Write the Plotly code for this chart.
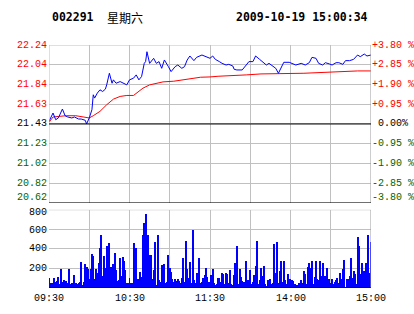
import plotly.graph_objects as go

# ---------------- data ----------------
prev_close = 21.43
stock_code = "002291"
weekday = "星期六"
stamp = "2009-10-19 15:00:34"

time_ticks = ["09:30", "10:30", "11:30", "14:00", "15:00"]
time_tick_min = [0, 60, 120, 180, 240]
price_ticks = ["22.24", "22.04", "21.84", "21.63", "21.43", "21.23", "21.02", "20.82", "20.62"]
pct_ticks = ["+3.80 %", "+2.85 %", "+1.90 %", "+0.95 %", "0.00%", "-0.95 %", "-1.90 %", "-2.85 %", "-3.80 %"]
vol_ticks = ["200", "400", "600", "800"]
vol_tick_vals = [200, 400, 600, 800]

# minute index (0 = 09:30, 120 = 11:30/13:00, 240 = 15:00)
price_min = [0, 3, 5, 7, 10, 12, 14, 17, 19, 22, 24, 27, 28, 30, 32, 33, 34, 36, 38, 40, 42, 43, 45, 47, 48,
             50, 53, 56, 58, 60, 63, 65, 67, 69, 71, 72, 73, 75, 78, 80, 82, 84, 86, 89, 91, 94, 96, 99,
             101, 103, 105, 108, 110, 114, 117, 120, 122, 124, 127, 129, 132, 134, 137, 138, 140, 144,
             147, 149, 152, 154, 157, 159, 162, 164, 167, 169, 171, 173, 175, 179, 181, 184, 188, 191,
             194, 196, 199, 201, 204, 206, 209, 211, 214, 216, 219, 221, 224, 227, 230, 232, 235, 237, 240]
price = [21.457, 21.543, 21.474, 21.492, 21.584, 21.515, 21.502, 21.492, 21.502, 21.481, 21.481, 21.468,
         21.430, 21.492, 21.577, 21.731, 21.697, 21.748, 21.782, 21.765, 21.789, 21.833, 21.953, 21.850,
         21.885, 21.850, 21.867, 21.850, 21.833, 21.885, 21.902, 21.936, 21.885, 21.919, 22.055, 22.073,
         22.175, 22.055, 22.107, 22.055, 22.073, 22.004, 22.090, 22.021, 21.970, 22.021, 22.038, 22.004,
         22.021, 22.090, 22.131, 22.083, 22.117, 22.141, 22.124, 22.107, 22.131, 22.096, 22.073, 22.055,
         22.038, 22.045, 22.028, 21.994, 21.987, 21.987, 22.038, 22.073, 22.073, 22.131, 22.096, 22.073,
         22.038, 22.055, 22.028, 22.004, 21.953, 22.004, 22.066, 22.066, 22.055, 22.038, 22.055, 22.038,
         22.062, 22.117, 22.107, 22.055, 22.038, 22.062, 22.049, 22.038, 22.062, 22.062, 22.045, 22.083,
         22.083, 22.096, 22.141, 22.124, 22.151, 22.131, 22.141]

avg_min = [0, 3, 8, 13, 20, 28, 30, 33, 38, 43, 48, 53, 58, 63, 65, 70, 75, 80, 85, 93, 100, 108, 113,
           120, 126, 147, 158, 190, 211, 230, 240]
avg_price = [21.447, 21.502, 21.509, 21.515, 21.515, 21.502, 21.492, 21.515, 21.560, 21.628, 21.686,
             21.714, 21.724, 21.724, 21.748, 21.799, 21.833, 21.850, 21.864, 21.871, 21.885, 21.895,
             21.912, 21.915, 21.922, 21.936, 21.946, 21.953, 21.967, 21.977, 21.977]

volume = [
    102, 50, 58, 51, 108, 68, 78, 112, 45, 193, 68, 85, 58, 78, 51, 193, 45, 58, 58, 136,
    51, 45, 58, 68, 268, 34, 68, 247, 220, 200, 95, 197, 349, 329, 92, 197, 159, 254, 407, 542,
    125, 329, 203, 431, 180, 464, 220, 214, 247, 363, 186, 75, 85, 305, 125, 322, 278, 186, 58, 58,
    102, 58, 58, 464, 329, 414, 92, 51, 170, 119, 542, 668, 756, 447, 549, 339, 339, 92, 186, 475,
    34, 549, 85, 68, 241, 112, 247, 51, 68, 339, 203, 170, 92, 68, 92, 78, 98, 78, 51, 102,
    305, 68, 485, 193, 102, 271, 58, 593, 85, 58, 153, 68, 305, 51, 68, 102, 136, 203, 112, 68,
    58, 136, 193, 51, 34, 45, 102, 102, 68, 159, 146, 45, 153, 146, 51, 186, 45, 34, 136, 254,
    431, 45, 193, 112, 75, 68, 45, 278, 85, 51, 186, 45, 68, 136, 227, 485, 45, 85, 203, 125,
    227, 45, 24, 85, 34, 92, 45, 58, 451, 159, 468, 51, 176, 278, 68, 278, 85, 45, 146, 95,
    92, 85, 75, 45, 24, 34, 58, 58, 85, 51, 176, 146, 45, 220, 261, 203, 278, 45, 112, 281,
    92, 85, 278, 125, 261, 85, 125, 203, 68, 95, 51, 92, 45, 68, 85, 102, 51, 159, 92, 193,
    288, 10, 95, 95, 125, 305, 105, 180, 146, 45, 519, 434, 146, 254, 180, 176, 261, 153, 542, 153,
    475]
vol_min = list(range(len(volume)))

# ---------------- figure ----------------
lo = prev_close * (1 - 0.038)
hi = prev_close * (1 + 0.038)
price_vals = [prev_close * (1 + 0.0095 * k) for k in range(4, -5, -1)]

RED = "#FF0000"
GREEN = "#006600"
GRID = "#C0C0C0"
MONO = "Liberation Mono, DejaVu Sans Mono, monospace"


def colour_for(k):
    return RED if k < 4 else ("#000000" if k == 4 else GREEN)


fig = go.Figure()
fig.add_trace(go.Bar(x=vol_min, y=volume, width=0.75, marker=dict(color="#0000FF", line=dict(width=0)),
                     xaxis="x2", yaxis="y2", hoverinfo="skip"))
fig.add_trace(go.Scatter(x=avg_min, y=avg_price, mode="lines", line=dict(color=RED, width=1),
                         xaxis="x", yaxis="y", hoverinfo="skip"))
fig.add_trace(go.Scatter(x=price_min, y=price, mode="lines", line=dict(color="#0000FF", width=1),
                         xaxis="x", yaxis="y", hoverinfo="skip"))

xcommon = dict(range=[0, 240], tickvals=list(range(0, 241, 30)), showgrid=True, gridcolor=GRID,
               gridwidth=1, zeroline=False, showline=False, ticks="", automargin=False, fixedrange=True,
               showticklabels=False)

fig.update_layout(
    width=414, height=314,
    margin=dict(l=49, r=43, t=45, b=26, pad=0),
    paper_bgcolor="white", plot_bgcolor="white",
    showlegend=False, bargap=0,
    font=dict(family=MONO, size=10, color="#000000"),
    xaxis=dict(**xcommon, domain=[0, 1], anchor="y"),
    xaxis2=dict(**xcommon, domain=[0, 1], anchor="y2"),
    yaxis=dict(domain=[0.35, 1], range=[lo, hi], tickvals=price_vals, showticklabels=False,
               showgrid=True, gridcolor=GRID, gridwidth=1, zeroline=False, showline=False, ticks="",
               automargin=False, fixedrange=True),
    yaxis2=dict(domain=[0, 0.322], range=[0, 800], tickvals=vol_tick_vals, showticklabels=False,
                showgrid=True, gridcolor=GRID, gridwidth=1, zeroline=False, showline=False, ticks="",
                automargin=False, fixedrange=True),
)

shapes = []
# price panel frame
shapes.append(dict(type="line", xref="x", yref="y", x0=0, x1=240, y0=hi, y1=hi, line=dict(color=GRID, width=1)))
shapes.append(dict(type="line", xref="x", yref="y", x0=0, x1=0, y0=lo, y1=hi, line=dict(color=GRID, width=1)))
shapes.append(dict(type="line", xref="x", yref="y", x0=240, x1=240, y0=lo, y1=hi, line=dict(color="#9A9A9A", width=1)))
shapes.append(dict(type="line", xref="x", yref="y", x0=0, x1=240, y0=lo, y1=lo, line=dict(color="#000000", width=1)))
shapes.append(dict(type="line", xref="x", yref="y", x0=0, x1=240, y0=prev_close, y1=prev_close, line=dict(color="#000000", width=1)))
# volume panel frame
shapes.append(dict(type="line", xref="x2", yref="y2", x0=0, x1=240, y0=800, y1=800, line=dict(color=GRID, width=1)))
shapes.append(dict(type="line", xref="x2", yref="y2", x0=240, x1=240, y0=0, y1=800, line=dict(color="#9A9A9A", width=1)))
shapes.append(dict(type="line", xref="x2", yref="y2", x0=0, x1=240, y0=0, y1=0, line=dict(color="#000000", width=1)))
fig.update_layout(shapes=shapes)

# price / percent axis labels
for k, (pv, lt, rt) in enumerate(zip(price_vals, price_ticks, pct_ticks)):
    ys = 5 if k == len(price_vals) - 1 else 0
    col = colour_for(k)
    fig.add_annotation(text=lt, xref="paper", yref="y", x=0, y=pv, xanchor="right", yanchor="middle",
                       xshift=0, yshift=ys, showarrow=False, font=dict(family=MONO, size=10, color=col))
    fig.add_annotation(text=rt, xref="paper", yref="y", x=1, y=pv, xanchor="center", yanchor="middle",
                       xshift=22, yshift=ys, showarrow=False, font=dict(family=MONO, size=10, color=col))

# volume axis labels
for vv, vt in zip(vol_tick_vals, vol_ticks):
    ys = -3 if vv == 800 else (-1 if vv == 600 else 0)
    fig.add_annotation(text=vt, xref="paper", yref="y2", x=0, y=vv, xanchor="right", yanchor="middle",
                       xshift=0, yshift=ys, showarrow=False, font=dict(family=MONO, size=10, color="#000000"))

# time labels
for tm, tt in zip(time_tick_min, time_ticks):
    fig.add_annotation(text=tt, xref="x2", yref="paper", x=tm, y=0, xanchor="center", yanchor="middle",
                       yshift=-10.5, showarrow=False, font=dict(family=MONO, size=10, color="#000000"))

fig.add_annotation(text="<b>%s</b>" % stock_code, xref="paper", yref="paper", x=0.003, y=1.115,
                   xanchor="left", yanchor="middle", showarrow=False,
                   font=dict(family="DejaVu Sans Mono", size=11.5, color="#000000"))
fig.add_annotation(text=weekday, xref="paper", yref="paper", x=0.174, y=1.115,
                   xanchor="left", yanchor="middle", showarrow=False,
                   font=dict(family="Noto Sans CJK SC", size=12, color="#000000"))
fig.add_annotation(text="<b>%s</b>" % stamp, xref="paper", yref="paper", x=0.997, y=1.115,
                   xanchor="right", yanchor="middle", showarrow=False,
                   font=dict(family="DejaVu Sans Mono", size=11.5, color="#000000"))

fig.write_html("out.html")
